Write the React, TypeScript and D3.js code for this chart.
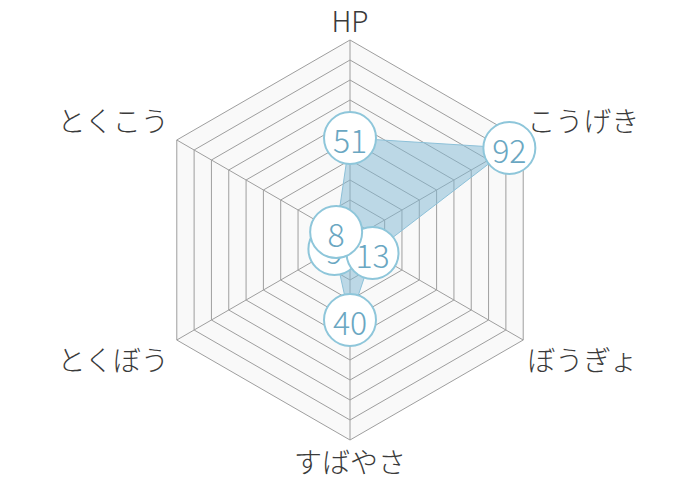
import React from 'react';
import * as d3 from 'd3';

// axes clockwise from the top
const statNames = ['HP', 'こうげき', 'ぼうぎょ', 'すばやさ', 'とくぼう', 'とくこう'];
const statValues = [51, 92, 13, 40, 9, 8];
// marker draw order (later ones on top)
const drawOrder = [3, 4, 2, 1, 0, 5];
const ringLevels = [10, 20, 30, 40, 50, 60, 70, 80, 90, 100];

const W = 700;
const H = 480;
const cx = 350;
const cy = 240;
const R = 200;

const rScale = d3.scaleLinear().domain([0, 100]).range([0, R]);
const angle = (i: number) => (i * 2 * Math.PI) / statNames.length;
const pt = (i: number, v: number): [number, number] => {
  const r = rScale(v);
  return [cx + r * Math.sin(angle(i)), cy - r * Math.cos(angle(i))];
};

const line = d3.line().curve(d3.curveLinearClosed);

function labelProps(i: number) {
  const [x, y] = pt(i, 100);
  const s = Math.sin(angle(i));
  const c = Math.cos(angle(i));
  if (Math.abs(s) < 0.01) {
    return c > 0
      ? {x, y: y - 8, anchor: 'middle'}
      : {x, y: y + 33, anchor: 'middle'};
  }
  const anchor = s > 0 ? 'start' : 'end';
  const dx = s > 0 ? 4 : -8;
  const dy = c > 0 ? -8 : 31;
  return {x: x + dx, y: y + dy, anchor};
}

export default function App() {
  const font = '"Noto Sans CJK JP", "Noto Sans", sans-serif';
  return (
    <svg width={W} height={H} viewBox={`0 0 ${W} ${H}`}
      style={{position: 'absolute', left: 0, top: 0, display: 'block', background: '#fff'}}>
      <path d={line(statNames.map((_, i) => pt(i, 100))) || ''} fill="#f9f9f9" stroke="none"/>
      {ringLevels.map(l => (
        <path key={l} d={line(statNames.map((_, i) => pt(i, l))) || ''}
          fill="none" stroke="#9e9e9e" strokeWidth={1}/>
      ))}
      {statNames.map((_, i) => {
        const [x, y] = pt(i, 100);
        return <line key={i} x1={cx} y1={cy} x2={x} y2={y} stroke="#9e9e9e" strokeWidth={1}/>;
      })}
      <path d={line(statValues.map((v, i) => pt(i, v))) || ''}
        fill="#7fb8d4" fillOpacity={0.5} stroke="#8cc0d8" strokeWidth={1}/>
      {statNames.map((name, i) => {
        const p = labelProps(i);
        return (
          <text key={name} x={p.x} y={p.y} textAnchor={p.anchor as any}
            fontFamily={font} fontWeight={300} fontSize={28} fill="#3a3a3a">{name}</text>
        );
      })}
      {drawOrder.map(i => {
        const [x, y] = pt(i, statValues[i]);
        return (
          <g key={i} transform={`translate(${x},${y})`}>
            <circle r={26} fill="#fff" stroke="#8ec6da" strokeWidth={2}/>
            <text y={1} textAnchor="middle" dominantBaseline="central"
              fontFamily={font} fontWeight={300} fontSize={32} fill="#6aa7c2">{statValues[i]}</text>
          </g>
        );
      })}
    </svg>
  );
}
